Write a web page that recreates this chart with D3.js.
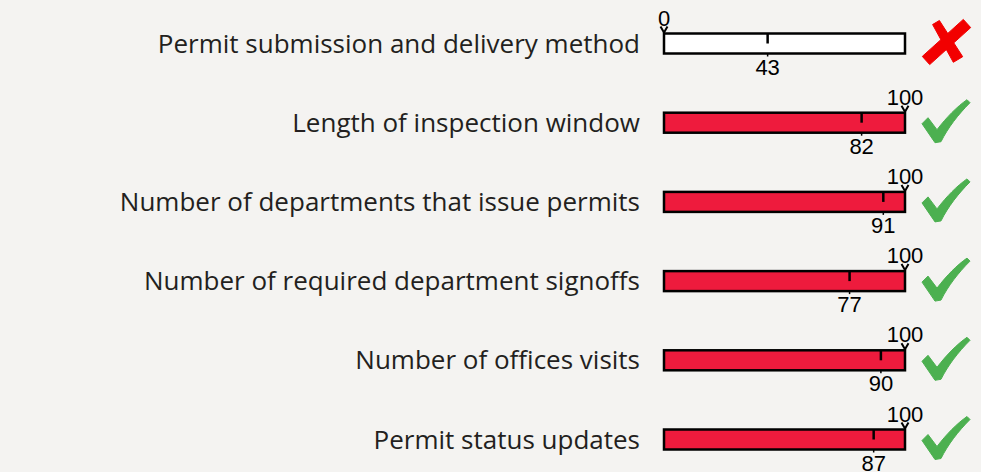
<!DOCTYPE html>
<html>
<head>
<meta charset="utf-8">
<script src="https://cdn.jsdelivr.net/npm/d3@7"></script>
<style>
  body { margin: 0; background: #f4f3f1; }
  svg { display: block; }
</style>
</head>
<body>
<svg></svg>
<script>
const categories = [
  'Permit submission and delivery method',
  'Length of inspection window',
  'Number of departments that issue permits',
  'Number of required department signoffs',
  'Number of offices visits',
  'Permit status updates'
];
const scores = [43, 82, 91, 77, 90, 87];
const targets = [0, 100, 100, 100, 100, 100];
const passed = [false, true, true, true, true, true];

const svg = d3.select('svg').attr('width', 981).attr('height', 472);

const BAR_H = 20;
const LABEL_X = 640;

const x = d3.scaleLinear().domain([0, 100]).range([664, 905]);
const y = d3.scalePoint().domain(categories).range([43.5, 439.5]);

const rows = svg.selectAll('g.row')
  .data(categories.map((c, i) => ({ cat: c, score: scores[i], target: targets[i], ok: passed[i] })))
  .join('g')
  .attr('class', 'row')
  .attr('transform', d => `translate(0, ${y(d.cat)})`);

// category labels
rows.append('text')
  .attr('x', LABEL_X)
  .attr('y', 9)
  .attr('text-anchor', 'end')
  .style('font-family', '"Open Sans", sans-serif')
  .style('font-size', '26px')
  .style('fill', '#231f20')
  .text(d => d.cat);

// bar background + filled part up to target
rows.append('rect')
  .attr('x', x(0))
  .attr('y', -BAR_H / 2)
  .attr('width', x(100) - x(0))
  .attr('height', BAR_H)
  .attr('fill', '#ffffff');

rows.append('rect')
  .attr('x', x(0))
  .attr('y', -BAR_H / 2)
  .attr('width', d => x(d.target) - x(0))
  .attr('height', BAR_H)
  .attr('fill', '#ee1b3d');

rows.append('rect')
  .attr('x', x(0))
  .attr('y', -BAR_H / 2)
  .attr('width', x(100) - x(0))
  .attr('height', BAR_H)
  .attr('fill', 'none')
  .attr('stroke', '#000')
  .attr('stroke-width', 2.5);

// score marker
rows.append('line')
  .attr('x1', d => x(d.score)).attr('x2', d => x(d.score))
  .attr('y1', -BAR_H / 2).attr('y2', 0)
  .attr('stroke', '#000').attr('stroke-width', 2.5);

rows.append('line')
  .attr('x1', d => x(d.score)).attr('x2', d => x(d.score))
  .attr('y1', BAR_H / 2).attr('y2', BAR_H / 2 + 3)
  .attr('stroke', '#000').attr('stroke-width', 1.5);

rows.append('text')
  .attr('x', d => x(d.score))
  .attr('y', BAR_H / 2 + 21)
  .attr('text-anchor', 'middle')
  .style('font-family', '"Liberation Sans", Arial, sans-serif')
  .style('font-size', '22px')
  .style('fill', '#000')
  .text(d => d.score);

// target caret + label
rows.append('path')
  .attr('d', d => {
    const tx = x(d.target), ty = -BAR_H / 2;
    return `M${tx - 3.5},${ty - 7}L${tx},${ty - 1}L${tx + 3.5},${ty - 7}`;
  })
  .attr('fill', 'none')
  .attr('stroke', '#000')
  .attr('stroke-width', 2);

rows.append('text')
  .attr('x', d => x(d.target))
  .attr('y', -BAR_H / 2 - 8)
  .attr('text-anchor', 'middle')
  .style('font-family', '"Liberation Sans", Arial, sans-serif')
  .style('font-size', '22px')
  .style('fill', '#000')
  .text(d => d.target);

// pass / fail icons
const ICON_X = 945;
const checkPath = 'M-23,1 L-17,-5 L-8,7 C2,-6 12,-16 22,-23 L25,-20 C13,-8 3,5 -4,19 L-10,20 Z';
const crossPath = 'M18.3,-24.1 L25.7,-15.9 L-15.3,21.1 L-22.7,12.9 Z ' +
  'M-12.4,-19 L-5.6,-23 L17.7,13.2 L8.3,18.8 Z';

rows.append('path')
  .attr('transform', `translate(${ICON_X}, 0)`)
  .attr('d', d => d.ok ? checkPath : crossPath)
  .attr('fill', d => d.ok ? '#4cb050' : '#f20000')
  .attr('stroke', d => d.ok ? '#4cb050' : '#f20000')
  .attr('stroke-width', 1)
  .attr('stroke-linejoin', 'round');
</script>
</body>
</html>
